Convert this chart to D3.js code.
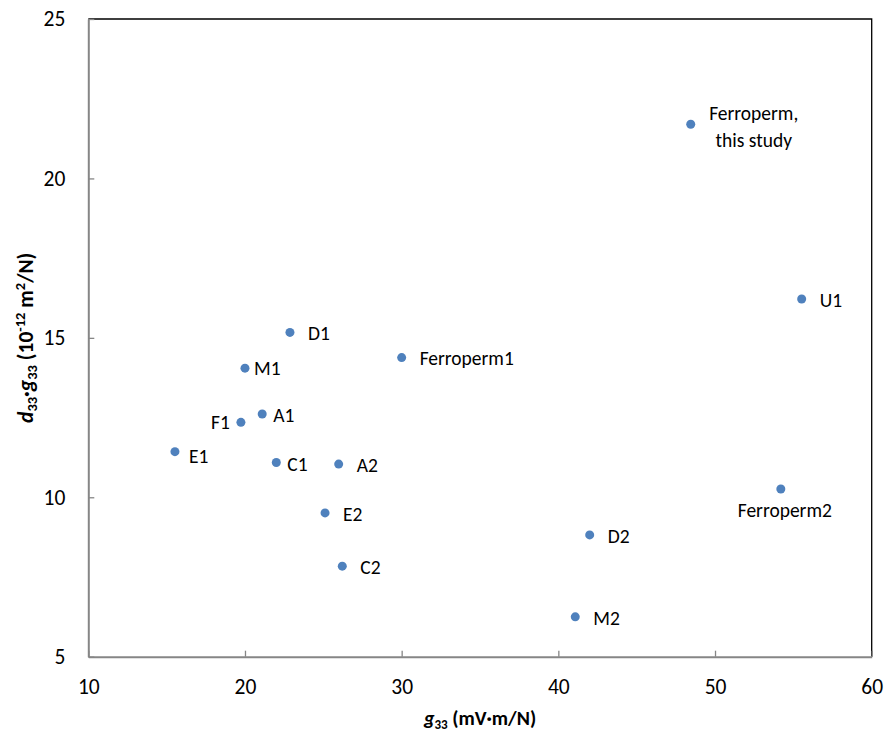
<!DOCTYPE html>
<html>
<head>
<meta charset="utf-8">
<script src="https://d3js.org/d3.v7.min.js"></script>
<style>
  body { margin: 0; background: #fff; }
  svg text { font-family: Calibri, Carlito, "Open Sans", sans-serif; fill: #000; }
</style>
</head>
<body>
<script>
// samples, g33 in mV·m/N, d33·g33 in 1e-12 m2/N
var names = ["Ferroperm, this study", "U1", "Ferroperm2", "D1", "M1", "Ferroperm1",
             "A1", "F1", "E1", "C1", "A2", "E2", "C2", "D2", "M2"];
var g33 = [48.45, 55.53, 54.2, 22.87, 20.0, 30.0, 21.1, 19.74, 15.53, 22.0, 25.98, 25.11, 26.21, 42.0, 41.08];
var fom = [21.7, 16.22, 10.26, 15.17, 14.05, 14.38, 12.61, 12.35, 11.43, 11.09, 11.04, 9.51, 7.84, 8.82, 6.25];

var xMajor = [10, 20, 30, 40, 50, 60];
var xMinor = [15, 25, 35, 45, 55];
var yMajor = [5, 10, 15, 20, 25];
var yMinor = [7.5, 12.5, 17.5, 22.5];

// where each label sits relative to its dot
var labelPos = {
  "Ferroperm, this study": {dx: 63, dy: 2, anchor: "middle"},
  "Ferroperm2": {dx: 4, dy: 21, anchor: "middle"},
  "F1": {dx: -11, dy: 0, anchor: "end"},
  "M1": {dx: 9, dy: 0, anchor: "start"},
  "A1": {dx: 11, dy: 1, anchor: "start"},
  "C1": {dx: 11, dy: 2, anchor: "start"},
  "E1": {dx: 14, dy: 4, anchor: "start"}
};

var width = 884, height = 736;
var svg = d3.select("body").append("svg")
  .attr("width", width)
  .attr("height", height);

var x = d3.scaleLinear().domain([10, 60]).range([88.3, 871.7]);
var y = d3.scaleLinear().domain([5, 25]).range([656.7, 19]);

// top and right frame
svg.append("path")
  .attr("d", "M" + x(10) + "," + y(25) + "H" + x(60) + "V" + y(5))
  .attr("fill", "none")
  .attr("stroke", "#000")
  .attr("stroke-width", 1.3);

var gx = svg.append("g").attr("transform", "translate(0," + y(5) + ")");
gx.call(d3.axisBottom(x).tickValues(xMinor).tickSizeInner(-5).tickSizeOuter(0).tickFormat(""));
gx.call(d3.axisBottom(x).tickValues(xMajor).tickSizeInner(-6).tickSizeOuter(0).tickPadding(22));

var gy = svg.append("g").attr("transform", "translate(" + x(10) + ",0)");
gy.call(d3.axisLeft(y).tickValues(yMinor).tickSizeInner(-5).tickSizeOuter(0).tickFormat(""));
gy.call(d3.axisLeft(y).tickValues(yMajor).tickSizeInner(-6).tickSizeOuter(0).tickPadding(23));

svg.selectAll(".domain").attr("stroke", "#868686").attr("stroke-width", 2);
svg.selectAll(".tick line").attr("stroke", "#868686").attr("stroke-width", 1.3);
svg.selectAll(".tick text").attr("font-size", 21.5).attr("fill", "#000");

// points
var pts = names.map(function(n, i) { return {name: n, gx: g33[i], v: fom[i]}; });

svg.selectAll("circle.pt")
  .data(pts)
  .enter()
    .append("circle")
    .attr("class", "pt")
    .attr("cx", function(d) { return x(d.gx); })
    .attr("cy", function(d) { return y(d.v); })
    .attr("r", 4.5)
    .attr("fill", "#4F81BD");

var labels = svg.selectAll("text.lab")
  .data(pts)
  .enter()
    .append("text")
    .attr("class", "lab")
    .attr("font-size", 19.5)
    .attr("text-anchor", function(d) { return labelPos[d.name] ? labelPos[d.name].anchor : "start"; })
    .attr("x", function(d) { return x(d.gx) + (labelPos[d.name] ? labelPos[d.name].dx : 18); })
    .attr("y", function(d) { return y(d.v) + (labelPos[d.name] ? labelPos[d.name].dy : 1); })
    .attr("dy", "0.35em");

labels.each(function(d) {
  var t = d3.select(this);
  if (d.name.indexOf(", ") > 0) {
    var parts = d.name.split(", ");
    var xx = t.attr("x");
    t.attr("dy", null);
    t.append("tspan").attr("x", xx).attr("dy", "-0.3em").text(parts[0] + ",");
    t.append("tspan").attr("x", xx).attr("dy", "1.35em").text(parts[1]);
  } else {
    t.text(d.name);
  }
});

// axis titles
var xt = svg.append("text")
  .attr("x", (x(10) + x(60)) / 2)
  .attr("y", 725)
  .attr("text-anchor", "middle")
  .attr("font-size", 20)
  .attr("font-weight", "bold");
xt.append("tspan").attr("font-style", "italic").text("g");
xt.append("tspan").attr("font-size", 13).attr("dy", 4).text("33");
xt.append("tspan").attr("dy", -4).text(" (mV·m/N)");

var yt = svg.append("text")
  .attr("transform", "translate(33," + (y(5) + y(25)) / 2 + ") rotate(-90)")
  .attr("text-anchor", "middle")
  .attr("font-size", 21.5)
  .attr("font-weight", "bold");
yt.append("tspan").attr("font-style", "italic").text("d");
yt.append("tspan").attr("font-size", 14.5).attr("dy", 4).text("33");
yt.append("tspan").attr("dy", -4).text("·");
yt.append("tspan").attr("font-style", "italic").text("g");
yt.append("tspan").attr("font-size", 14.5).attr("dy", 4).text("33");
yt.append("tspan").attr("dy", -4).text(" (10");
yt.append("tspan").attr("font-size", 14.5).attr("dy", -8).text("-12");
yt.append("tspan").attr("dy", 8).text(" m");
yt.append("tspan").attr("font-size", 14.5).attr("dy", -8).text("2");
yt.append("tspan").attr("dy", 8).text("/N)");
</script>
</body>
</html>
